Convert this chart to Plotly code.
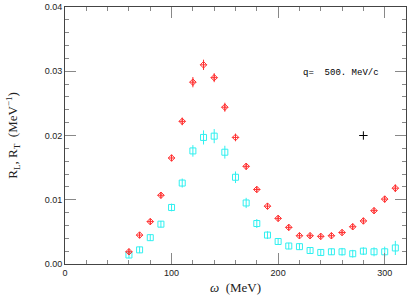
import plotly.graph_objects as go

omega = [60, 70, 80, 90, 100, 110, 120, 130, 140, 150, 160, 170, 180, 190, 200,
         210, 220, 230, 240, 250, 260, 270, 280, 290, 300, 310]
R_L = [0.0019, 0.0045, 0.0066, 0.0107, 0.0165, 0.0222, 0.0283, 0.0310, 0.0290,
       0.0244, 0.0197, 0.0152, 0.0116, 0.0090, 0.0071, 0.0057, 0.0044, 0.0044,
       0.0043, 0.0044, 0.0049, 0.0058, 0.0067, 0.0083, 0.0101, 0.0118]
R_L_err = [0.0004, 0.0004, 0.0004, 0.0004, 0.0005, 0.0006, 0.0008, 0.0008, 0.0007,
           0.0007, 0.0006, 0.0005, 0.0004, 0.0004, 0.0004, 0.0004, 0.0003, 0.0003,
           0.0003, 0.0003, 0.0003, 0.0004, 0.0004, 0.0004, 0.0005, 0.0006]
R_T = [0.0014, 0.0022, 0.0041, 0.0062, 0.0088, 0.0126, 0.0176, 0.0197, 0.0199,
       0.0174, 0.0135, 0.0095, 0.0063, 0.0045, 0.0035, 0.0028, 0.0027, 0.0021,
       0.0018, 0.0019, 0.0019, 0.0016, 0.0020, 0.0019, 0.0019, 0.0025]
R_T_err = [0.0005, 0.0005, 0.0005, 0.0005, 0.0006, 0.0007, 0.0009, 0.0011, 0.0011,
           0.0010, 0.0009, 0.0008, 0.0007, 0.0006, 0.0005, 0.0005, 0.0005, 0.0005,
           0.0005, 0.0005, 0.0006, 0.0006, 0.0006, 0.0007, 0.0008, 0.0011]
ref_point_x = [280]
ref_point_y = [0.020]
label_text = "q=  500. MeV/c"
y_title = "R<sub>L</sub>, R<sub>T</sub>  (MeV<sup>−1</sup>)"
x_title = "<i>ω</i>  (MeV)"

RED = "#ff3030"
CYAN = "#30f0f0"

fig = go.Figure()
fig.add_trace(go.Scatter(
    x=omega, y=R_T, mode="markers",
    marker=dict(symbol="square-open", size=6, color=CYAN, line=dict(width=1, color=CYAN)),
    error_y=dict(type="data", array=R_T_err, visible=True, color=CYAN, thickness=1, width=0),
    showlegend=False))
fig.add_trace(go.Scatter(
    x=omega, y=R_L, mode="markers",
    marker=dict(symbol="diamond-cross-open", size=5, color=RED, line=dict(width=1, color=RED)),
    error_y=dict(type="data", array=R_L_err, visible=True, color=RED, thickness=1, width=0),
    showlegend=False))
fig.add_trace(go.Scatter(
    x=ref_point_x, y=ref_point_y, mode="markers",
    marker=dict(symbol="cross-thin-open", size=6, color="black", line=dict(width=1, color="black")),
    showlegend=False))

fig.add_annotation(x=221, y=0.0297, xref="x", yref="y", text=label_text, showarrow=False,
                   xanchor="left", yanchor="middle",
                   font=dict(family="Liberation Mono", size=9, color="black"))
fig.add_annotation(x=-0.155, y=0.5, xref="paper", yref="paper", text=y_title, showarrow=False,
                   textangle=-90, xanchor="center", yanchor="middle",
                   font=dict(family="Liberation Serif", size=13, color="#222"))

axis_common = dict(
    showgrid=False, zeroline=False, showline=True, linecolor="#444", linewidth=1,
    mirror="allticks", ticks="inside", tickcolor="#888", tickwidth=1, ticklen=11,
    tickfont=dict(family="Liberation Sans", size=9, color="#222"),
)

fig.update_layout(
    width=409, height=300,
    margin=dict(l=65, r=2, t=5, b=36),
    paper_bgcolor="white", plot_bgcolor="white",
    xaxis=dict(range=[0, 320], tickvals=[0, 100, 200, 300],
               minor=dict(dtick=20, tick0=0, ticks="inside", ticklen=4, tickcolor="#888"),
               title=dict(text=x_title, standoff=6,
                          font=dict(family="Liberation Serif", size=13, color="#222")),
               **axis_common),
    yaxis=dict(range=[0, 0.04], tickvals=[0, 0.01, 0.02, 0.03, 0.04], tickformat=".2f",
               minor=dict(dtick=0.002, tick0=0, ticks="inside", ticklen=4, tickcolor="#888"),
               **axis_common),
)

fig.write_html("out.html", config={"displayModeBar": False},
               post_script="document.body.style.margin='0px';")
